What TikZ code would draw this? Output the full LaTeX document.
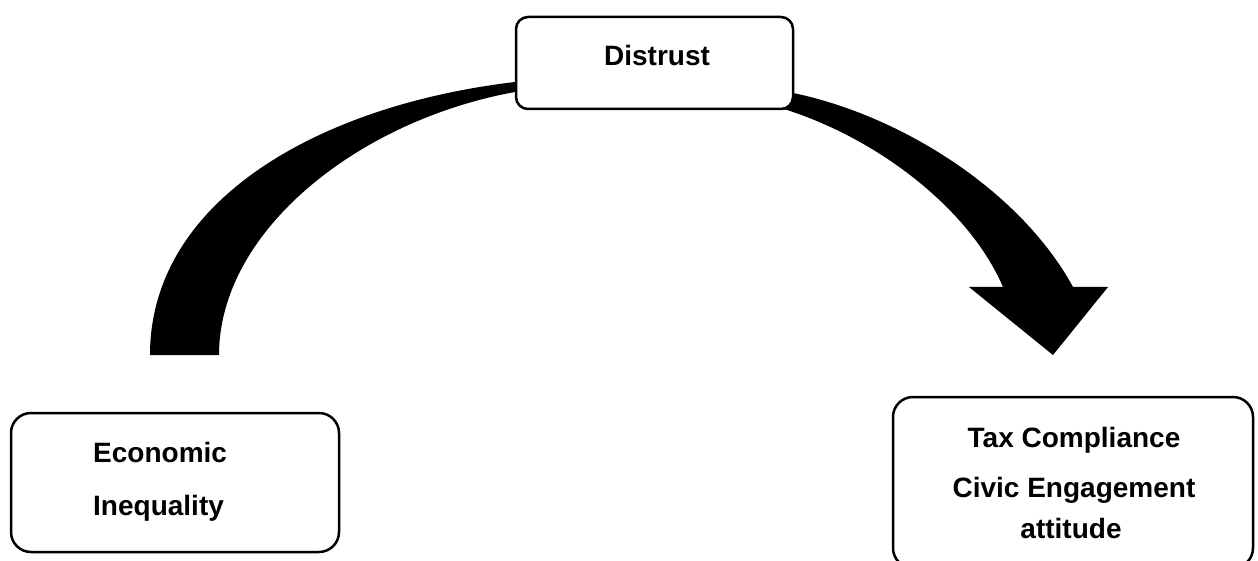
\documentclass[tikz,border=0pt]{standalone}
\usepackage{fontspec}
\setmainfont{Liberation Sans}
\usetikzlibrary{fit}
\begin{document}
\begin{tikzpicture}[x=1pt,y=-1pt,
  box/.style={draw=black, line width=2.5pt, fill=white, rounded corners=#1, inner sep=0pt},
  box/.default=20pt,
  lbl/.style={font=\fontsize{28}{32}\selectfont\bfseries, inner sep=0pt, text=black},
  band/.style={fill=black, draw=none}]
\useasboundingbox (0,0) rectangle (1258,561);
\clip (0,0) rectangle (1258,561);
\fill[white] (0,0) rectangle (1258,561);
% curved arrows (drawn under the boxes)
\coordinate (lo1) at (150,355);
\coordinate (li1) at (219,355);
\coordinate (lo2) at (525,81);
\coordinate (li2) at (525,91);
\path[band] (lo1) .. controls (150,200) and (320,105) .. (515,82) -- (lo2) -- (li2) -- (515,92)
  .. controls (360,120) and (219,230) .. (li1) -- cycle;
\coordinate (ru1) at (780,91);
\coordinate (rl1) at (775,108);
\coordinate (hr) at (1108,287);
\coordinate (tip) at (1053,355);
\coordinate (hl) at (969,287);
\path[band] (ru1) -- (793,93) .. controls (900,115) and (1020,190) .. (1073,287) -- (hr) -- (tip) -- (hl)
  -- (1003,287) .. controls (970,210) and (880,140) .. (787,110) -- (rl1) -- cycle;
% boxes
\node[box=12pt, fit={(516,17) (793,109)}] (distrust) {};
\node[box, fit={(11,413) (339,552)}] (econ) {};
\node[box, fit={(893,397) (1253,568)}] (tax) {};
% labels
\node[lbl, anchor=base] (distrustT) at (657,66) {Distrust};
\node[lbl, anchor=base west] (econT1) at (93,462) {Economic};
\node[lbl, anchor=base west] (econT2) at (93,515) {Inequality};
\node[lbl, anchor=base] (taxT1) at (1074,447) {Tax Compliance};
\node[lbl, anchor=base] (taxT2) at (1074,497) {Civic Engagement};
\node[lbl, anchor=base] (taxT3) at (1071,538) {attitude};
\end{tikzpicture}
\end{document}
